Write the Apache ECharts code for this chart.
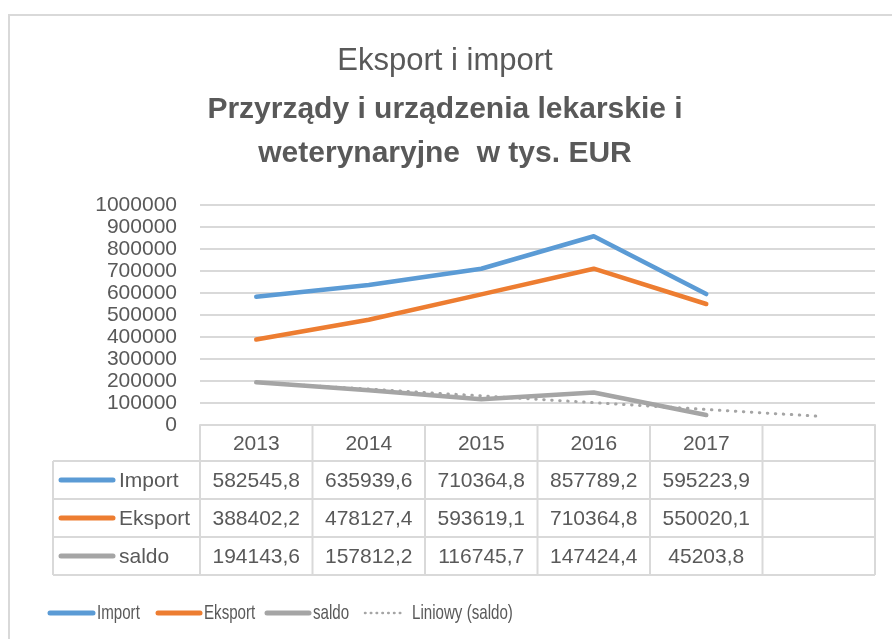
<!DOCTYPE html>
<html>
<head>
<meta charset="utf-8">
<script src="https://cdn.jsdelivr.net/npm/echarts@6/dist/echarts.min.js"></script>
<style>
  html, body { margin: 0; padding: 0; background: #fff; }
  #main { width: 892px; height: 639px; }
</style>
</head>
<body>
<div id="main"></div>
<script>
// dane z wykresu
var years = ['2013', '2014', '2015', '2016', '2017', ''];
var importVals = [582545.8, 635939.6, 710364.8, 857789.2, 595223.9];
var eksportVals = [388402.2, 478127.4, 593619.1, 710364.8, 550020.1];
var saldoVals = [194143.6, 157812.2, 116745.7, 147424.4, 45203.8];
// linia trendu (Liniowy (saldo))
var trendVals = [193919, 163093, 132266, 101439, 70613, 39786];
var yTicks = [0, 1000000, 100000]; // min, max, interval

var seriesNames = ['Import', 'Eksport', 'saldo', 'Liniowy (saldo)'];
var colors = ['#5B9BD5', '#ED7D31', '#A5A5A5', '#A5A5A5'];
var textColor = '#595959';
var borderColor = '#D9D9D9';
var font = 'Liberation Sans, Arial, sans-serif';

var chart = echarts.init(document.getElementById('main'));

var option = {
  animation: false,
  backgroundColor: '#fff',
  title: [
    {
      text: 'Eksport i import',
      left: 440, top: 41, textAlign: 'center',
      textStyle: { color: textColor, fontSize: 31, fontWeight: 'normal', fontFamily: font }
    },
    {
      text: 'Przyrządy i urządzenia lekarskie i\nweterynaryjne  w tys. EUR',
      left: 440, top: 83, textAlign: 'center',
      textStyle: { color: textColor, fontSize: 30, fontWeight: 'bold', lineHeight: 44, fontFamily: font }
    }
  ],
  grid: { left: 200, right: 17, top: 205, bottom: 214 },
  xAxis: {
    type: 'category',
    data: years,
    boundaryGap: true,
    axisLine: { show: true, lineStyle: { color: borderColor, width: 2 } },
    axisTick: { show: false },
    axisLabel: { show: false }
  },
  yAxis: {
    type: 'value',
    min: yTicks[0], max: yTicks[1], interval: yTicks[2],
    axisLine: { show: false },
    axisTick: { show: false },
    axisLabel: {
      color: textColor, fontSize: 21, fontFamily: font, margin: 23,
      formatter: function (v) { return String(v); }
    },
    splitLine: { lineStyle: { color: borderColor, width: 2 } }
  },
  series: [
    {
      name: 'Liniowy (saldo)', type: 'line', data: trendVals, symbol: 'none', z: 1,
      lineStyle: { color: colors[3], width: 3, type: [0.5, 7.5], cap: 'round' },
      itemStyle: { color: colors[3] }
    },
    {
      name: 'Import', type: 'line', data: importVals, symbol: 'none', z: 3,
      lineStyle: { color: colors[0], width: 4.5, cap: 'round', join: 'round' },
      itemStyle: { color: colors[0] }
    },
    {
      name: 'Eksport', type: 'line', data: eksportVals, symbol: 'none', z: 3,
      lineStyle: { color: colors[1], width: 4.5, cap: 'round', join: 'round' },
      itemStyle: { color: colors[1] }
    },
    {
      name: 'saldo', type: 'line', data: saldoVals, symbol: 'none', z: 2,
      lineStyle: { color: colors[2], width: 4.5, cap: 'round', join: 'round' },
      itemStyle: { color: colors[2] }
    }
  ]
};
chart.setOption(option);

// tabela danych pod osia
function fmt(v) {
  return String(v).replace('.', ',');
}

var c0 = chart.convertToPixel({ xAxisIndex: 0 }, 0);
var c1 = chart.convertToPixel({ xAxisIndex: 0 }, 1);
var band = c1 - c0;
var yTop = chart.convertToPixel({ yAxisIndex: 0 }, 0);
var xLeft = c0 - band / 2;
var xRight = chart.convertToPixel({ xAxisIndex: 0 }, years.length - 1) + band / 2;
var labelLeft = 53;
var headerH = 36;
var rowH = 38;
var rows = [
  { name: 'Import', vals: importVals, color: colors[0] },
  { name: 'Eksport', vals: eksportVals, color: colors[1] },
  { name: 'saldo', vals: saldoVals, color: colors[2] }
];
var yBottom = yTop + headerH + rowH * rows.length;
var lineStyle = { stroke: borderColor, lineWidth: 2 };
var g = [];

// ramka wykresu
g.push({ type: 'rect', shape: { x: 9, y: 15, width: 900, height: 700 }, style: { fill: null, stroke: borderColor, lineWidth: 2 }, z: -10, silent: true });

// linie pionowe
for (var i = 0; i <= years.length; i++) {
  var x = xLeft + band * i;
  g.push({ type: 'line', shape: { x1: x, y1: yTop, x2: x, y2: yBottom }, style: lineStyle, silent: true });
}
g.push({ type: 'line', shape: { x1: labelLeft, y1: yTop + headerH, x2: labelLeft, y2: yBottom }, style: lineStyle, silent: true });
// linie poziome
for (var r = 0; r <= rows.length; r++) {
  var y = yTop + headerH + rowH * r;
  g.push({ type: 'line', shape: { x1: labelLeft, y1: y, x2: xRight, y2: y }, style: lineStyle, silent: true });
}
// naglowek z latami
years.forEach(function (yr, i) {
  g.push({
    type: 'text', x: c0 + band * i, y: yTop + headerH / 2 + 1,
    style: { text: yr, fill: textColor, font: '21px ' + font, textAlign: 'center', textVerticalAlign: 'middle' },
    silent: true
  });
});
// wiersze
rows.forEach(function (row, r) {
  var cy = yTop + headerH + rowH * r + rowH / 2 + 1;
  g.push({ type: 'line', shape: { x1: 61, y1: cy - 1, x2: 113, y2: cy - 1 }, style: { stroke: row.color, lineWidth: 5, lineCap: 'round' }, silent: true });
  g.push({
    type: 'text', x: 119, y: cy,
    style: { text: row.name, fill: textColor, font: '21px ' + font, textAlign: 'left', textVerticalAlign: 'middle' },
    silent: true
  });
  row.vals.forEach(function (v, i) {
    g.push({
      type: 'text', x: c0 + band * i, y: cy,
      style: { text: fmt(v), fill: textColor, font: '21px ' + font, textAlign: 'center', textVerticalAlign: 'middle' },
      silent: true
    });
  });
});

// legenda na dole (waski tekst)
var legendY = 613;
var legendItems = [
  { name: seriesNames[0], x: 50, w: 43, color: colors[0], dash: null, width: 5 },
  { name: seriesNames[1], x: 158, w: 42, color: colors[1], dash: null, width: 5 },
  { name: seriesNames[2], x: 267, w: 42, color: colors[2], dash: null, width: 5 },
  { name: seriesNames[3], x: 365, w: 40, color: colors[3], dash: [0.5, 5.3], width: 2.5 }
];
legendItems.forEach(function (it) {
  g.push({
    type: 'line', shape: { x1: it.x, y1: legendY, x2: it.x + it.w, y2: legendY },
    style: { stroke: it.color, lineWidth: it.width, lineCap: 'round', lineDash: it.dash }, silent: true
  });
  g.push({
    type: 'text', x: it.x + it.w + 4 + (it.dash ? 3 : 0), y: legendY, scaleX: 0.72, originX: 0,
    style: { text: it.name, fill: textColor, font: '21px ' + font, textAlign: 'left', textVerticalAlign: 'middle' },
    silent: true
  });
});

chart.setOption({ graphic: g });
</script>
</body>
</html>
